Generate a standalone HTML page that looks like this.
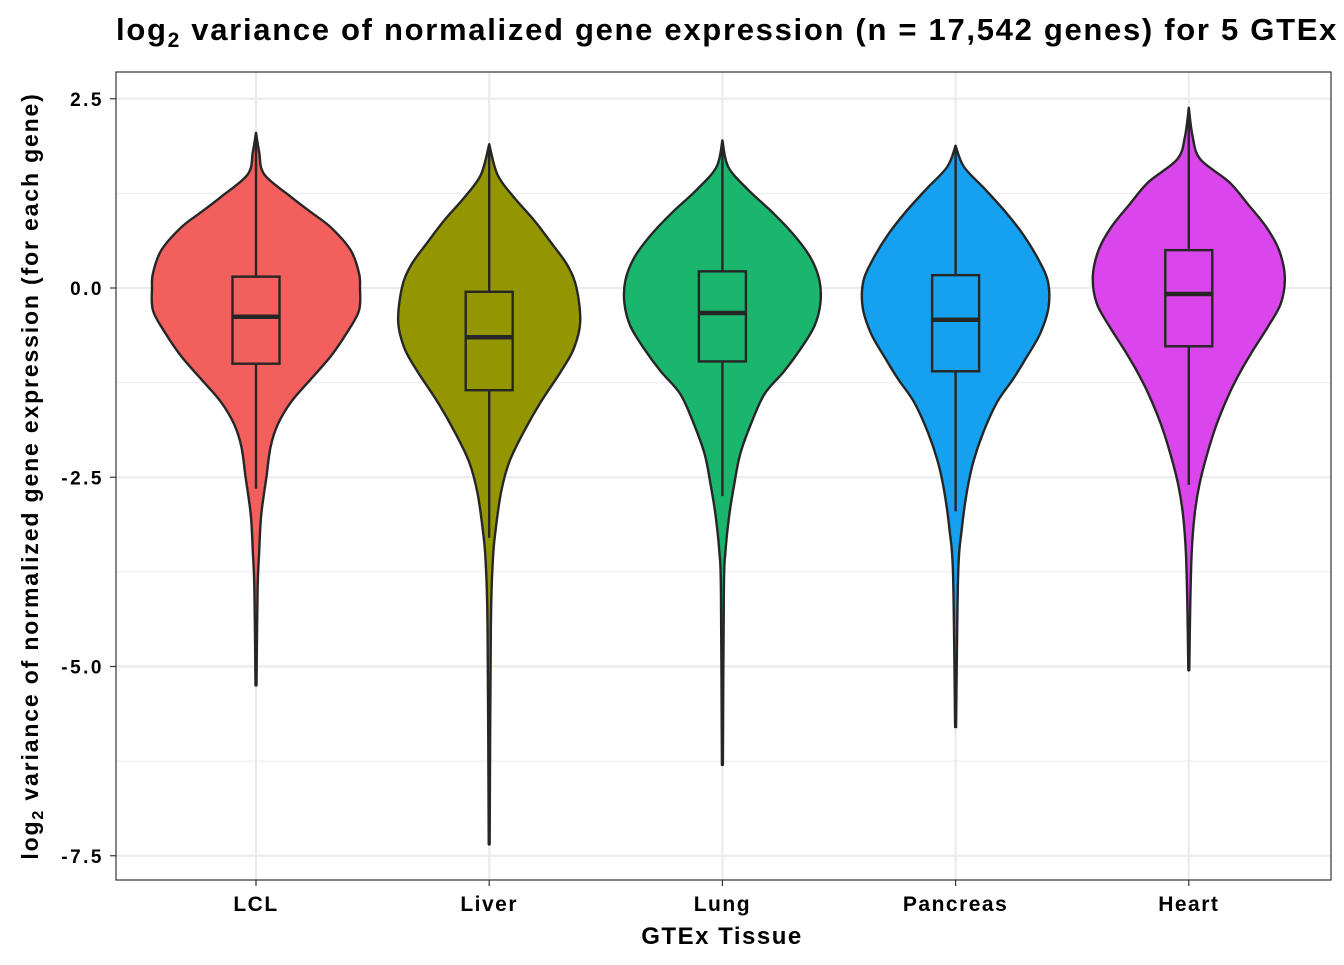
<!DOCTYPE html>
<html><head><meta charset="utf-8">
<style>
body{margin:0;background:#fff;}
svg text{font-family:"Liberation Sans",Arial,sans-serif;font-weight:bold;}
</style></head>
<body>
<svg id="chart" width="1344" height="960" xmlns="http://www.w3.org/2000/svg">
<defs><clipPath id="pc"><rect x="116" y="72" width="1215" height="808"/></clipPath></defs>
<text x="116" y="40" font-size="31" letter-spacing="1.7" fill="#000">log<tspan font-size="21" dy="7">2</tspan><tspan dy="-7"> variance of normalized gene expression (n = 17,542 genes) for 5 GTEx tissues</tspan></text>
<g id="grid"></g>
<g id="marks" clip-path="url(#pc)"></g>
<rect x="116" y="72" width="1215" height="808" fill="none" stroke="#333" stroke-width="1.2"/>
<g id="axes"></g>
<text x="722" y="944" font-size="24" letter-spacing="1.5" text-anchor="middle">GTEx Tissue</text>
<text transform="translate(38,476) rotate(-90)" font-size="23" letter-spacing="1.85" text-anchor="middle">log<tspan font-size="16" dy="5">2</tspan><tspan dy="-5"> variance of normalized gene expression (for each gene)</tspan></text>
</svg>
<script>
const categories=["LCL","Liver","Lung","Pancreas","Heart"];
const colors=["#f25f5c","#949600","#1bb66d","#15a0f0","#db46ec"];
const yTicks=[2.5,0,-2.5,-5,-7.5];
const yTickLabels=["2.5","0.0","-2.5","-5.0","-7.5"];
const q1=[-1.0,-1.35,-0.97,-1.1,-0.77];
const median=[-0.38,-0.65,-0.33,-0.42,-0.08];
const q3=[0.15,-0.05,0.22,0.17,0.5];
const whiskerLow=[-2.65,-3.3,-2.75,-2.95,-2.6];
const whiskerHigh=[2.05,1.9,1.95,1.88,2.38];
const densY=[
[2.05,1.8,1.5,1.2,1.0,0.8,0.5,0.2,0,-0.3,-0.6,-0.9,-1.2,-1.5,-1.8,-2.1,-2.5,-3,-3.5,-4,-5.25],
[1.9,1.5,1.2,0.9,0.6,0.3,0,-0.45,-0.8,-1.1,-1.5,-1.9,-2.3,-2.7,-3.2,-3.6,-4.5,-7.35],
[1.95,1.6,1.3,1.0,0.7,0.4,0.1,-0.2,-0.5,-0.8,-1.1,-1.4,-1.8,-2.2,-2.6,-3.0,-3.5,-4,-6.3],
[1.88,1.6,1.3,1.0,0.7,0.4,0.1,-0.25,-0.6,-0.9,-1.2,-1.5,-1.9,-2.3,-2.7,-3.2,-3.8,-5.8],
[2.38,2.0,1.7,1.4,1.1,0.8,0.5,0.15,-0.2,-0.5,-0.8,-1.1,-1.4,-1.8,-2.2,-2.6,-3.0,-3.5,-4.2,-5.05]];
const densW=[
[0,0.03,0.08,0.34,0.53,0.72,0.91,0.99,1.0,0.99,0.87,0.72,0.53,0.34,0.21,0.14,0.1,0.05,0.03,0.015,0.005],
[0,0.09,0.27,0.49,0.68,0.86,0.96,1.0,0.93,0.79,0.57,0.38,0.22,0.13,0.07,0.04,0.018,0.005],
[0,0.06,0.26,0.51,0.73,0.9,0.99,1.0,0.94,0.8,0.63,0.43,0.29,0.18,0.12,0.07,0.03,0.015,0.005],
[0,0.09,0.32,0.54,0.73,0.88,0.99,1.0,0.91,0.77,0.62,0.45,0.3,0.19,0.12,0.065,0.027,0.005],
[0,0.04,0.12,0.42,0.62,0.81,0.94,1.0,0.96,0.83,0.68,0.54,0.42,0.29,0.19,0.11,0.06,0.03,0.015,0.005]];
const maxHalfWidth=[104,91,98,93,96];
const NS="http://www.w3.org/2000/svg";
const y=v=>288-v*75.7;
const x=i=>256+i*233.2;
function mk(tag,attrs,parent){const e=document.createElementNS(NS,tag);for(const k in attrs)e.setAttribute(k,attrs[k]);parent.appendChild(e);return e;}
const grid=document.getElementById('grid'),marks=document.getElementById('marks'),axes=document.getElementById('axes');
for(let v=3.75;v>-8.8;v-=1.25){if(y(v)<72||y(v)>880)continue;const major=Math.abs(v/2.5-Math.round(v/2.5))<1e-6;
const l=mk('line',{x1:116,x2:1331,y1:y(v),y2:y(v),stroke:'#ebebeb','stroke-width':major?2.2:1.1},grid);

}
categories.forEach((c,i)=>{const l=mk('line',{x1:x(i),x2:x(i),y1:72,y2:880,stroke:'#ebebeb','stroke-width':2.2},grid);


const t=mk('line',{x1:x(i),x2:x(i),y1:880,y2:886,stroke:'#333','stroke-width':1.2},axes);


const tx=mk('text',{x:x(i),y:911,'font-size':21,'letter-spacing':1.5,'text-anchor':'middle'},axes);tx.textContent=c;

});
yTicks.forEach((v,k)=>{const t=mk('line',{x1:110,x2:116,y1:y(v),y2:y(v),stroke:'#333','stroke-width':1.2},axes);


const tx=mk('text',{x:104,y:y(v)+7,'font-size':19,'letter-spacing':2.5,'text-anchor':'end'},axes);tx.textContent=yTickLabels[k];

});
function smooth(pts){let d='M'+pts[0][0]+','+pts[0][1];for(let i=0;i<pts.length-1;i++){const p0=pts[Math.max(i-1,0)],p1=pts[i],p2=pts[i+1],p3=pts[Math.min(i+2,pts.length-1)];
d+=' C'+(p1[0]+(p2[0]-p0[0])/6)+','+(p1[1]+(p2[1]-p0[1])/6)+' '+(p2[0]-(p3[0]-p1[0])/6)+','+(p2[1]-(p3[1]-p1[1])/6)+' '+p2[0]+','+p2[1];}return d;}
categories.forEach((c,i)=>{const cx=x(i);
const right=densY[i].map((v,k)=>[cx+densW[i][k]*maxHalfWidth[i],y(v)]);
const left=densY[i].map((v,k)=>[cx-densW[i][k]*maxHalfWidth[i],y(v)]).reverse();
const d=smooth(right)+' L'+smooth(left).slice(1)+' Z';
const g=mk('g',{},marks);


mk('path',{d:d,fill:colors[i],stroke:'#262626','stroke-width':2.4,'stroke-linejoin':'round'},g);
mk('line',{x1:cx,x2:cx,y1:y(whiskerHigh[i]),y2:y(q3[i]),stroke:'#262626','stroke-width':2.4},g);
mk('line',{x1:cx,x2:cx,y1:y(q1[i]),y2:y(whiskerLow[i]),stroke:'#262626','stroke-width':2.4},g);
const b=mk('rect',{x:cx-23.5,y:y(q3[i]),width:47,height:y(q1[i])-y(q3[i]),fill:colors[i],stroke:'#262626','stroke-width':2.4},g);


const m=mk('line',{x1:cx-23.5,x2:cx+23.5,y1:y(median[i]),y2:y(median[i]),stroke:'#262626','stroke-width':4.5},g);

});
</script>
</body></html>
